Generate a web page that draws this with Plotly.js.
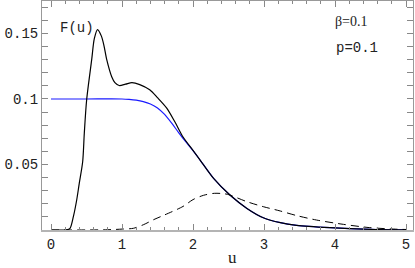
<!DOCTYPE html>
<html><head><meta charset="utf-8">
<script src="https://cdn.plot.ly/plotly-3.0.1.min.js"></script>
<style>html,body{margin:0;padding:0;background:#fff}#c{width:415px;height:268px}</style>
</head><body><div id="c"></div>
<script>
// F(u), solid black
const uF = [0, 0.15, 0.22, 0.268, 0.315, 0.362, 0.398, 0.446, 0.469, 0.502, 0.573, 0.61, 0.655, 0.71, 0.745, 0.785, 0.855, 0.9, 0.96, 1.05, 1.14, 1.25, 1.39, 1.5, 1.63, 1.75, 1.86, 2.0, 2.10, 2.29, 2.52, 2.76, 2.99, 3.23, 3.46, 3.93, 4.5, 5.0];
const F  = [0, 0, 0.0001, 0.0013, 0.0102, 0.0229, 0.0356, 0.0521, 0.0738, 0.0992, 0.130, 0.146, 0.153, 0.148, 0.141, 0.130, 0.117, 0.1125, 0.1103, 0.1113, 0.1125, 0.111, 0.107, 0.101, 0.093, 0.082, 0.071, 0.0608, 0.0534, 0.0394, 0.0267, 0.0165, 0.0094, 0.0056, 0.0036, 0.0018, 0.0005, 0.0001];
// blue curve
const uB = [0, 0.5, 1.0, 1.1, 1.2, 1.3, 1.4, 1.5, 1.6, 1.7, 1.8, 1.9, 2.0, 2.10, 2.29, 2.52, 2.76, 2.99, 3.23, 3.46, 3.93, 4.5, 5.0];
const B  = [0.1, 0.1, 0.1, 0.0997, 0.0991, 0.098, 0.0962, 0.0932, 0.0882, 0.0815, 0.0742, 0.0672, 0.0606, 0.0534, 0.0394, 0.0267, 0.0165, 0.0094, 0.0056, 0.0036, 0.0018, 0.0005, 0.0001];
// dashed curve
const uD = [0, 0.8, 1.0, 1.16, 1.3, 1.45, 1.6, 1.86, 2.0, 2.15, 2.3, 2.45, 2.52, 2.76, 2.99, 3.23, 3.46, 3.74, 4.12, 4.49, 4.87, 5.0];
const D  = [0, 0.0002, 0.0007, 0.0013, 0.004, 0.008, 0.0115, 0.018, 0.0232, 0.0265, 0.028, 0.0276, 0.0267, 0.0216, 0.0178, 0.0145, 0.011, 0.0076, 0.0043, 0.0018, 0.0006, 0.0004];

const xTicks = [0, 1, 2, 3, 4, 5];
const xTickText = ['0', '1', '2', '3', '4', '5'];
const yTicks = [0.05, 0.1, 0.15];
const yTickText = ['0.05', '0.1', '0.15'];

const mono = 'Liberation Mono, Courier New, monospace';
const serif = 'Liberation Serif, Times New Roman, serif';

const traces = [
  {x: uB, y: B, mode: 'lines', line: {color: '#1a1aff', width: 1.2, shape: 'spline', smoothing: 0.8}, xaxis: 'x', yaxis: 'y', hoverinfo: 'skip'},
  {x: uF, y: F, mode: 'lines', line: {color: '#000', width: 1.2, shape: 'spline', smoothing: 0.8}, xaxis: 'x', yaxis: 'y', hoverinfo: 'skip'},
  {x: uD, y: D, mode: 'lines', line: {color: '#000', width: 1, dash: '8px,5px', shape: 'spline', smoothing: 0.8}, xaxis: 'x2', yaxis: 'y', hoverinfo: 'skip'}
];

const layout = {
  width: 415, height: 268,
  margin: {l: 42, r: 2, t: 1, b: 38},
  paper_bgcolor: '#fff', plot_bgcolor: '#fff',
  showlegend: false,
  xaxis: {
    range: [-0.1268, 5.0986], tickmode: 'array', tickvals: xTicks, ticktext: xTickText,
    showgrid: false, zeroline: false, showline: true, linecolor: '#b4b4b4', linewidth: 2,
    ticks: 'inside', ticklen: 6, tickcolor: '#888', tickwidth: 1,
    minor: {tickmode: 'linear', tick0: 0, dtick: 0.2, ticks: 'inside', ticklen: 3, tickcolor: '#888', showgrid: false},
    tickfont: {family: mono, size: 14, color: '#222'}, fixedrange: true
  },
  xaxis2: {
    overlaying: 'x', matches: 'x', side: 'top', anchor: 'y',
    showticklabels: false, showgrid: false, zeroline: false, showline: true, linecolor: '#999', linewidth: 1,
    tickmode: 'array', tickvals: xTicks,
    ticks: 'inside', ticklen: 6, tickcolor: '#888',
    minor: {tickmode: 'linear', tick0: 0, dtick: 0.2, ticks: 'inside', ticklen: 3, tickcolor: '#888', showgrid: false}
  },
  yaxis: {
    range: [0, 0.1748], tickmode: 'array', tickvals: yTicks, ticktext: yTickText,
    showgrid: false, zeroline: false, showline: true, linecolor: '#999', linewidth: 1, mirror: 'allticks',
    ticks: 'inside', ticklen: 6, tickcolor: '#888',
    minor: {tickmode: 'linear', tick0: 0, dtick: 0.01, ticks: 'inside', ticklen: 3, tickcolor: '#888', showgrid: false},
    tickfont: {family: mono, size: 14, color: '#222'}, fixedrange: true
  },
  annotations: [
    {text: 'F(u)', xref: 'x', yref: 'y', x: 0.1, y: 0.1545, xanchor: 'left', yanchor: 'middle', showarrow: false, font: {family: mono, size: 14, color: '#222'}},
    {text: 'β=0.1', xref: 'x', yref: 'y', x: 3.97, y: 0.159, xanchor: 'left', yanchor: 'middle', showarrow: false, font: {family: serif, size: 14, color: '#222'}},
    {text: 'p=0.1', xref: 'x', yref: 'y', x: 3.99, y: 0.139, xanchor: 'left', yanchor: 'middle', showarrow: false, font: {family: mono, size: 14, color: '#222'}},
    {text: 'u', xref: 'paper', yref: 'paper', x: (232 - 42) / 371, y: -0.118, xanchor: 'center', yanchor: 'middle', showarrow: false, font: {family: serif, size: 17, color: '#222'}}
  ]
};

Plotly.newPlot('c', traces, layout, {staticPlot: true, displayModeBar: false});
</script></body></html>
